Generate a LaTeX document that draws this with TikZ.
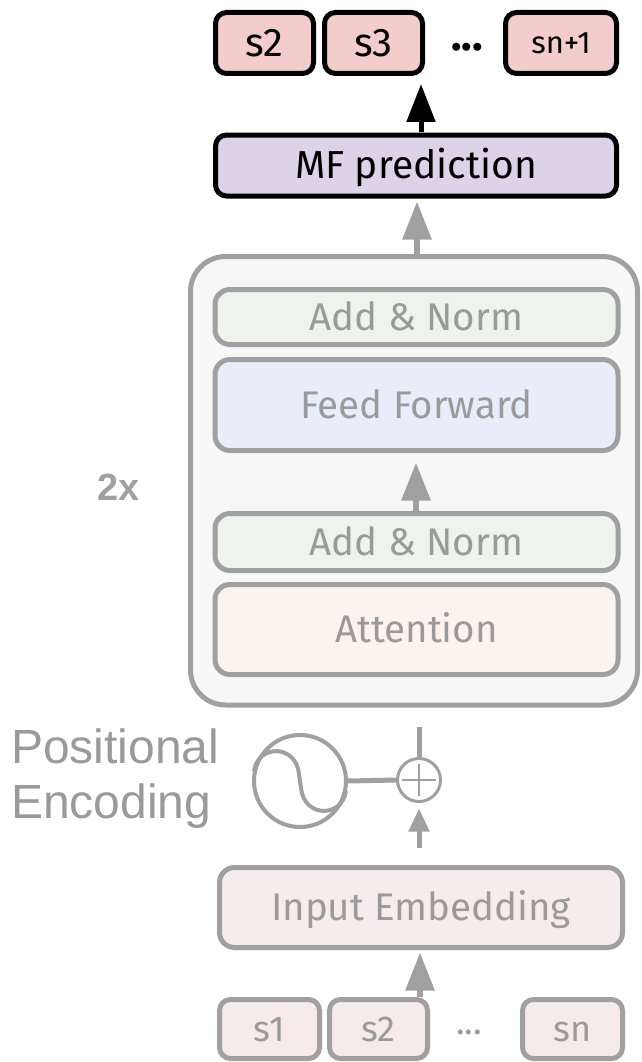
\documentclass[tikz,border=0pt]{standalone}
\usepackage{fontspec}
\setmainfont{Fira Sans}
\newfontfamily\helv{Liberation Sans}
\usetikzlibrary{arrows.meta}

\definecolor{lgray}{HTML}{A0A0A0}
\definecolor{tgray}{HTML}{9A9A9A}
\definecolor{encfill}{HTML}{F7F7F7}
\definecolor{normfill}{HTML}{EEF3EC}
\definecolor{fffill}{HTML}{E8EEF9}
\definecolor{attfill}{HTML}{FCF3EC}
\definecolor{embfill}{HTML}{F6ECEE}
\definecolor{infill}{HTML}{F7EAEA}
\definecolor{outfill}{HTML}{F3CCCC}
\definecolor{mffill}{HTML}{DCD3E8}

\tikzset{
  graybox/.style={draw=lgray, line width=5pt, rounded corners=15pt, inner sep=0pt,
    text=tgray, font=\fontsize{38.5}{46}\selectfont, text height=26.5pt, text depth=0pt},
  tokin/.style={graybox, rounded corners=11pt, fill=infill, minimum height=59pt,
    font=\fontsize{36}{42}\selectfont, text height=24.8pt},
  tokout/.style={draw=black, line width=5pt, rounded corners=11pt, inner sep=0pt,
    fill=outfill, minimum height=61pt, minimum width=98pt, text=black,
    font=\fontsize{40}{46}\selectfont, text height=27.5pt, text depth=0pt},
  garrow/.style={draw=lgray, line width=6pt, -{Triangle[length=38pt,width=28pt]}},
  barrow/.style={draw=black, line width=5pt, -{Triangle[length=38pt,width=28pt]}},
  gline/.style={draw=lgray, line width=5pt},
}

\begin{document}
\begin{tikzpicture}[x=1pt, y=-1pt]
\useasboundingbox (0,0) rectangle (641,1062);

% output tokens
\node[tokout] (o2) at (264.5,43) {s2};
\node[tokout] (o3) at (373.5,43) {s3};
\node[text=black, font=\fontsize{44}{50}\selectfont\bfseries, inner sep=0pt] (odots) at (467,47) {...};
\node[tokout, minimum width=111pt, font=\fontsize{31}{36}\selectfont, text height=21.4pt] (on) at (561,43) {sn+1};

% prediction head
\node[draw=black, line width=5pt, rounded corners=11pt, inner sep=0pt, fill=mffill,
  minimum width=401pt, minimum height=61pt, text=black,
  font=\fontsize{39}{46}\selectfont, text height=26.9pt, text depth=0pt] (mf) at (416,165.5) {MF prediction};

% encoder block
\node[draw=lgray, line width=5pt, rounded corners=35pt, fill=encfill, inner sep=0pt,
  minimum width=447pt, minimum height=448.5pt] (enc) at (414,480.75) {};
\node[graybox, fill=normfill, minimum width=403pt, minimum height=55pt] (an2) at (416.5,317) {Add \& Norm};
\node[graybox, fill=fffill, minimum width=403pt, minimum height=91pt] (ff) at (416.5,405) {Feed Forward};
\node[graybox, fill=normfill, minimum width=403pt, minimum height=57pt] (an1) at (416.5,542) {Add \& Norm};
\node[graybox, fill=attfill, minimum width=403pt, minimum height=90pt] (att) at (416.5,629.5) {Attention};

\node[text=lgray, font=\helv\bfseries\fontsize{38}{44}\selectfont, inner sep=0pt] (rep) at (118.5,487.5) {2x};

% positional encoding
\node[anchor=base west, inner sep=0pt, text=tgray, font=\helv\fontsize{48}{55}\selectfont] (pos1) at (11,763) {Positional};
\node[anchor=base west, inner sep=0pt, text=tgray, font=\helv\fontsize{48}{55}\selectfont] (pos2) at (11,818) {Encoding};
\node[circle, draw=lgray, line width=4pt, minimum size=92pt, inner sep=0pt] (pe) at (300,781) {};
\draw[draw=lgray, line width=4pt]
  (254,771) .. controls (258,744) and (296,744) .. (299,774)
  -- (301,788) .. controls (304,818) and (342,818) .. (346,791);
\node[circle, draw=lgray, line width=3pt, minimum size=43pt, inner sep=0pt] (plus) at (419,780) {};
\draw[draw=lgray, line width=2.5pt] (plus.center) ++(-17,0) -- ++(34,0);
\draw[draw=lgray, line width=2.5pt] (plus.center) ++(0,-16) -- ++(0,32);
\draw[gline] (pe.east) -- (plus.west);

% input embedding and tokens
\node[graybox, fill=embfill, minimum width=403pt, minimum height=80pt] (emb) at (421,907.5) {Input Embedding};
\node[tokin, minimum width=100pt] (i1) at (269.5,1029) {s1};
\node[tokin, minimum width=98pt] (i2) at (378.5,1029) {s2};
\node[text=tgray, font=\fontsize{36}{42}\selectfont, inner sep=0pt] (idots) at (469,1032) {...};
\node[tokin, minimum width=100pt] (in) at (572.5,1029) {sn};

% connectors
\coordinate (xa) at (421,0);
\coordinate (xb) at (417,0);
\coordinate (xc) at (416,0);
\coordinate (xd) at (419,0);
\coordinate (xe) at (420,0);
\draw[barrow, shorten >=8pt] (mf.north -| xa) -- (o3.south -| xa);
\draw[garrow, shorten >=3pt] (enc.north -| xb) -- (mf.south -| xb);
\draw[garrow, shorten >=9.5pt] (an1.north -| xc) -- (ff.south -| xc);
\draw[gline, shorten >=19pt] (plus.north) -- (enc.south -| xd);
\draw[draw=lgray, line width=5pt, -{Triangle[length=23pt,width=20pt]},
  shorten <=17.5pt, shorten >=5.5pt] (emb.north -| xd) -- (plus.south);
\draw[garrow, shorten >=2.5pt] (i2.north -| xe) -- (emb.south -| xe);
\end{tikzpicture}
\end{document}
